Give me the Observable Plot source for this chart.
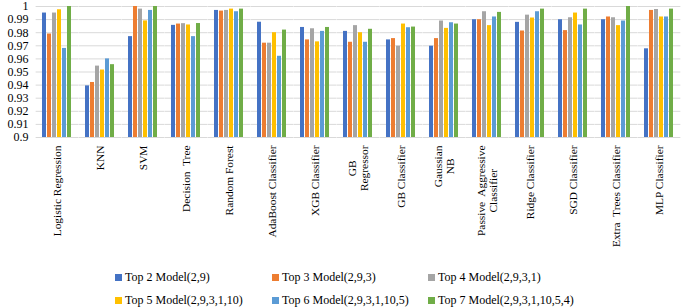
<!DOCTYPE html>
<html>
<head>
<meta charset="utf-8">
<script src="https://cdn.jsdelivr.net/npm/d3@7"></script>
<script src="https://cdn.jsdelivr.net/npm/@observablehq/plot@0.6"></script>
<style>
  body { margin: 0; background: #fff; font-family: "Liberation Serif", "Times New Roman", serif; }
  #chart { width: 685px; height: 307px; position: relative; overflow: hidden; }
  #chart svg { display: block; }
  svg g[aria-label="fx-axis tick label"] text { font-size: 11.4px; }
  .legend { position: absolute; left: 0; top: 0; font-size: 12px; color: #000; }
  .legend .item { position: absolute; display: flex; align-items: center; height: 16px; line-height: 16px; white-space: nowrap; }
  .legend .sw { width: 7px; height: 7px; margin-right: 3px; flex: none; }
</style>
</head>
<body>
<div id="chart"></div>
<script>
const categories = ["Logistic Regression", "KNN", "SVM", "Decision  Tree", "Random Forest", "AdaBoost Classifier", "XGB Classifier", "GB\nRegressor", "GB Classifier", "Gaussian\nNB", "Passive  Aggressive\nClassifier", "Ridge Classifier", "SGD Classifier", "Extra  Trees Classifier", "MLP Classifier"];
const seriesNames = ["Top 2 Model(2,9)", "Top 3 Model(2,9,3)", "Top 4 Model(2,9,3,1)", "Top 5 Model(2,9,3,1,10)", "Top 6 Model(2,9,3,1,10,5)", "Top 7 Model(2,9,3,1,10,5,4)"];
const colors = ["#4472C4", "#ED7D31", "#A5A5A5", "#FFC000", "#5B9BD5", "#70AD47"];
const top2 = [0.995, 0.9394, 0.977, 0.9856, 0.997, 0.988, 0.984, 0.981, 0.9745, 0.9697, 0.9899, 0.9879, 0.9899, 0.9899, 0.9677];
const top3 = [0.979, 0.942, 1.0, 0.9866, 0.9965, 0.972, 0.9745, 0.9727, 0.9755, 0.9755, 0.9899, 0.9813, 0.9816, 0.992, 0.997];
const top4 = [0.995, 0.9545, 0.998, 0.9869, 0.997, 0.972, 0.983, 0.9854, 0.9697, 0.9889, 0.996, 0.9934, 0.9914, 0.9914, 0.9977];
const top5 = [0.9975, 0.9515, 0.989, 0.9859, 0.998, 0.980, 0.973, 0.980, 0.9866, 0.9833, 0.9854, 0.9912, 0.995, 0.9854, 0.992];
const top6 = [0.968, 0.960, 0.997, 0.977, 0.996, 0.962, 0.981, 0.9727, 0.9838, 0.9876, 0.992, 0.996, 0.9859, 0.9889, 0.992];
const top7 = [1.0, 0.9556, 1.0, 0.987, 0.998, 0.982, 0.984, 0.9826, 0.9843, 0.9866, 0.9955, 0.998, 0.998, 1.0, 0.998];
const yTicks = [0.9, 0.91, 0.92, 0.93, 0.94, 0.95, 0.96, 0.97, 0.98, 0.99, 1];

const seriesValues = [top2, top3, top4, top5, top6, top7];
const data = [];
categories.forEach((c, i) => {
  seriesNames.forEach((s, j) => data.push({category: c, series: s, value: seriesValues[j][i]}));
});

const W = 685, ML = 32, MR = 0;
const step = (W - ML - MR) / categories.length;
const padIn = 0.2;
const halfGap = step * padIn / 2;

const chart = Plot.plot({
  width: W,
  height: 258,
  marginLeft: ML,
  marginRight: MR,
  marginTop: 6,
  marginBottom: 121,
  style: {fontFamily: "'Liberation Serif', 'Times New Roman', serif", fontSize: "12px", color: "#000", background: "#fff", overflow: "visible"},
  fx: {domain: categories, paddingInner: padIn, paddingOuter: padIn / 2, label: null, tickSize: 0, tickPadding: 8, tickRotate: -90},
  x: {domain: seriesNames, paddingInner: 0.17, paddingOuter: 0, axis: null},
  y: {domain: [0.9, 1], ticks: yTicks, tickFormat: d => String(+d.toFixed(2)), tickSize: 0, tickPadding: 12, label: null},
  color: {domain: seriesNames, range: colors},
  marks: [
    Plot.ruleY(yTicks, {y: d => d, stroke: "#d9d9d9", strokeWidth: 1, insetLeft: -halfGap, insetRight: -halfGap}),
    Plot.barY(data, {fx: "category", x: "series", y1: 0.9, y2: "value", fill: "series"})
  ]
});

const root = document.getElementById("chart");
root.appendChild(chart);

// Center multi-line rotated category labels along their length (as in the original)
chart.querySelectorAll('g[aria-label="fx-axis tick label"] text').forEach(t => {
  const spans = t.querySelectorAll("tspan");
  if (spans.length > 1) {
    let maxLen = 0;
    spans.forEach(s => { maxLen = Math.max(maxLen, s.getComputedTextLength()); });
    t.setAttribute("text-anchor", "middle");
    spans.forEach(s => s.setAttribute("x", -maxLen / 2));
  }
});

const legendCols = [115, 272, 428];
const legendRows = [277, 300];
const legend = document.createElement("div");
legend.className = "legend";
seriesNames.forEach((s, i) => {
  const item = document.createElement("div");
  item.className = "item";
  item.style.left = legendCols[i % 3] + "px";
  item.style.top = (legendRows[Math.floor(i / 3)] - 8) + "px";
  const sw = document.createElement("span");
  sw.className = "sw";
  sw.style.background = colors[i];
  item.appendChild(sw);
  item.appendChild(document.createTextNode(s));
  legend.appendChild(item);
});
root.appendChild(legend);
</script>
</body>
</html>
